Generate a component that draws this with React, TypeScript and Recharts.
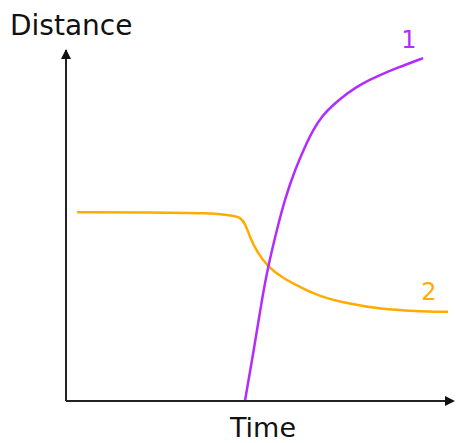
import { LineChart, Line, XAxis, YAxis } from "recharts";

// time / distance in arbitrary units (0..100)
const purpleTime = [46.6, 48.7, 51.0, 52.6, 54.9, 57.0, 59.6, 62.2, 64.3, 66.9, 69.5, 73.2, 77.3, 81.8, 86.2, 93.0];
const purpleDist = [0, 13.1, 28.8, 38.2, 48.7, 57.5, 65.8, 72.4, 77.2, 81.5, 84.3, 87.7, 90.6, 92.9, 94.9, 97.7];

const orangeTime = [2.9, 21.9, 37.5, 43.5, 45.3, 46.6, 47.9, 49.7, 52.6, 56.5, 60.9, 65.6, 74.0, 81.8, 90.9, 99.5];
const orangeDist = [53.8, 53.7, 53.6, 52.8, 52.4, 50.7, 46.7, 42.5, 38.2, 35.0, 32.5, 29.9, 27.6, 26.2, 25.6, 25.4];

const PURPLE = "#b22cff";
const ORANGE = "#ffab00";
const FONT = "'DejaVu Sans', Verdana, sans-serif";

const curve1 = purpleTime.map((t, i) => ({ t, d: purpleDist[i] }));
const curve2 = orangeTime.map((t, i) => ({ t, d: orangeDist[i] }));

export default function App() {
  return (
    <div style={{ position: "absolute", left: 0, top: 0, background: "#fff" }}>
      <LineChart width={456} height={443} margin={{ top: 50, right: 6, left: 6, bottom: 0 }}>
        <defs>
          <marker id="arrowX" viewBox="0 0 10 10" refX="5" refY="5" markerWidth="10" markerHeight="10"
            markerUnits="userSpaceOnUse" orient="auto-start-reverse">
            <path d="M0,0 L10,5 L0,10 z" fill="#111" />
          </marker>
          <marker id="arrowY" viewBox="0 0 10 10" refX="9" refY="5" markerWidth="10" markerHeight="10"
            markerUnits="userSpaceOnUse" orient="auto-start-reverse">
            <path d="M0,0 L10,5 L0,10 z" fill="#111" />
          </marker>
        </defs>
        <XAxis
          type="number" dataKey="t" domain={[0, 100]} height={42}
          tick={false} tickLine={false}
          axisLine={{ stroke: "#222", strokeWidth: 2, markerEnd: "url(#arrowX)" }}
          allowDataOverflow
        />
        <YAxis
          type="number" dataKey="d" domain={[0, 100]} width={60}
          tick={false} tickLine={false}
          axisLine={{ stroke: "#222", strokeWidth: 2, markerStart: "url(#arrowY)" }}
          allowDataOverflow
        />
        <Line data={curve2} dataKey="d" type="basis" stroke={ORANGE} strokeWidth={2.5}
          dot={false} isAnimationActive={false} />
        <Line data={curve1} dataKey="d" type="basis" stroke={PURPLE} strokeWidth={2.5}
          dot={false} isAnimationActive={false} />
        <text x={10} y={35} fontSize={28} fontFamily={FONT} fill="#111">Distance</text>
        <text x={263} y={437} fontSize={27} fontFamily={FONT} fill="#111" textAnchor="middle">Time</text>
        <text x={409} y={48} fontSize={24} fontFamily={FONT} fill={PURPLE} textAnchor="middle">1</text>
        <text x={429} y={300} fontSize={24} fontFamily={FONT} fill={ORANGE} textAnchor="middle">2</text>
      </LineChart>
    </div>
  );
}
